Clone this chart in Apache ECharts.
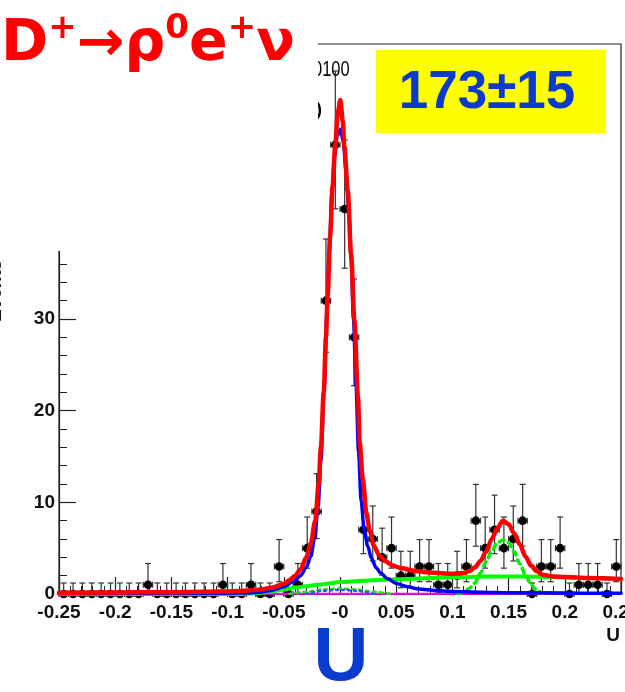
<!DOCTYPE html>
<html>
<head>
<meta charset="utf-8">
<script src="https://cdn.jsdelivr.net/npm/echarts@6/dist/echarts.min.js"></script>
<style>
  html, body { margin: 0; padding: 0; background: #fff; }
  #chart { width: 625px; height: 692px; }
</style>
</head>
<body>
<div id="chart"></div>
<script>
// ---- histogram of U: 60 bins from -0.25 to 0.25 ----
const U_MIN = -0.25;
const U_MAX = 0.25;
const BIN_WIDTH = 1 / 120;
const counts = [
  0, 0, 0, 0, 0, 0, 0, 0, 0, 1,
  0, 0, 0, 0, 0, 0, 0, 1, 0, 0,
  1, 0, 0, 3, 0, 1, 5, 9, 32, 49,
  42, 28, 7, 6, 4, 5, 2, 2, 3, 3,
  1, 1, 2, 3, 8, 5, 7, 5, 6, 8,
  0, 3, 3, 5, 0, 1, 1, 1, 0, 3
];
// upper bar drawn on empty bins
const ZERO_UP = 1.2;

const X_TICK_LABELS = ['-0.25', '-0.2', '-0.15', '-0.1', '-0.05', '-0', '0.05', '0.1', '0.15', '0.2', '0.25'];
const Y_TICK_LABELS = ['0', '10', '20', '30', '40', '50', '60'];

// ---- fit components, sampled as [U, events] ----
const totalFit = [
  [-0.25, 0.15], [-0.2, 0.17], [-0.15, 0.2], [-0.12, 0.24], [-0.1, 0.28], [-0.09, 0.32],
  [-0.08, 0.4], [-0.07, 0.5], [-0.06, 0.72], [-0.05, 1.1], [-0.045, 1.5], [-0.04, 2.0],
  [-0.035, 2.7], [-0.03, 4.0], [-0.026, 5.5], [-0.022, 8.0], [-0.019, 12], [-0.017, 16],
  [-0.0145, 22], [-0.0125, 28], [-0.011, 32.5], [-0.0088, 39], [-0.0066, 44.5],
  [-0.0042, 49], [-0.002, 52.5], [0.0003, 53.9], [0.0025, 51.5], [0.0039, 48.8],
  [0.0069, 44], [0.0099, 37], [0.0128, 29.9], [0.016, 21.5], [0.0175, 16.5],
  [0.0203, 12.5], [0.0235, 8.8], [0.0265, 6.9], [0.03, 5.3], [0.035, 4.2], [0.04, 3.6],
  [0.047, 3.1], [0.055, 2.8], [0.065, 2.55], [0.08, 2.35], [0.1, 2.2], [0.11, 2.3],
  [0.115, 2.5], [0.12, 2.9], [0.125, 3.6], [0.13, 4.6], [0.135, 6.0], [0.14, 7.2],
  [0.145, 8.0], [0.15, 7.6], [0.155, 6.6], [0.16, 5.4], [0.165, 4.1], [0.17, 3.1],
  [0.175, 2.5], [0.18, 2.1], [0.19, 1.9], [0.2, 1.85], [0.22, 1.75], [0.25, 1.65]
];
const signalFit = [
  [-0.25, 0.03], [-0.15, 0.05], [-0.1, 0.08], [-0.08, 0.12], [-0.07, 0.22], [-0.06, 0.42],
  [-0.05, 0.78], [-0.041, 1.4], [-0.035, 2.0], [-0.03, 2.9], [-0.026, 4.1], [-0.0225, 6.2],
  [-0.0195, 9.5], [-0.017, 14.5], [-0.014, 22.6], [-0.0115, 31], [-0.0096, 37.2],
  [-0.007, 44], [-0.005, 47.6], [-0.0025, 50], [0.0003, 50.7], [0.003, 49.3],
  [0.0055, 46], [0.008, 41.5], [0.0099, 36.5], [0.012, 30], [0.0143, 22.6],
  [0.0165, 15.5], [0.0188, 10.2], [0.0215, 7.0], [0.0247, 5.2], [0.028, 3.9],
  [0.032, 2.9], [0.036, 2.3], [0.042, 1.7], [0.05, 1.15], [0.06, 0.8], [0.07, 0.55],
  [0.085, 0.38], [0.1, 0.28], [0.125, 0.2], [0.15, 0.15], [0.2, 0.1], [0.25, 0.08]
];
const smoothBkg = [
  [-0.25, 0], [-0.09, 0], [-0.08, 0.05], [-0.07, 0.15], [-0.06, 0.3], [-0.05, 0.5],
  [-0.04, 0.7], [-0.03, 0.85], [-0.02, 1.0], [-0.01, 1.15], [0, 1.3], [0.02, 1.45],
  [0.05, 1.6], [0.08, 1.75], [0.1, 1.82], [0.13, 1.9], [0.16, 1.9], [0.19, 1.85],
  [0.22, 1.75], [0.25, 1.6]
];
const peakingBkg = [
  [0.105, 0], [0.11, 0.2], [0.115, 0.6], [0.12, 1.2], [0.125, 2.3], [0.13, 3.5],
  [0.135, 4.7], [0.14, 5.6], [0.145, 5.9], [0.15, 5.6], [0.155, 4.6], [0.16, 3.3],
  [0.165, 2.1], [0.17, 1.0], [0.175, 0.4], [0.18, 0.1], [0.185, 0]
];
const crossFeedA = [
  [-0.045, 0], [-0.03, 0.25], [-0.015, 0.5], [0, 0.6], [0.015, 0.5], [0.03, 0.25], [0.045, 0]
];
const crossFeedB = [
  [-0.03, 0], [-0.015, 0.35], [0, 0.45], [0.015, 0.35], [0.03, 0]
];
const flatBkg = [[-0.25, 0.03], [0.25, 0.03]];

const YIELD_TEXT = '173\u00b115';

// ---- points with Poisson-style asymmetric errors ----
const points = counts.map((n, k) => {
  const u = U_MIN + (k + 0.5) * BIN_WIDTH;
  const lo = n > 0 ? n - Math.sqrt(n - 0.25) : 0;
  const hi = n > 0 ? n + Math.sqrt(n + 0.75) + 1 : ZERO_UP;
  return [u, n, lo, hi];
});

const chart = echarts.init(document.getElementById('chart'), null, { renderer: 'canvas' });

const LABEL_FONT = 'Liberation Sans';
const INK = '#222';
const BLUE_TEXT = '#0b3bcc';

function renderPoint(params, api) {
  const u = api.value(0), n = api.value(1), lo = api.value(2), hi = api.value(3);
  const c = api.coord([u, n]);
  const t = api.coord([u, hi]);
  const b = api.coord([u, lo]);
  const l = api.coord([u - BIN_WIDTH / 2, n]);
  const r = api.coord([u + BIN_WIDTH / 2, n]);
  const cap = 3;
  const st = { stroke: '#333', lineWidth: 1.2 };
  const line = (x1, y1, x2, y2) => ({ type: 'line', shape: { x1, y1, x2, y2 }, style: st });
  return {
    type: 'group',
    children: [
      line(c[0], t[1], c[0], b[1]),
      line(c[0] - cap, t[1], c[0] + cap, t[1]),
      line(c[0] - cap, b[1], c[0] + cap, b[1]),
      line(l[0], c[1], r[0], c[1]),
      line(l[0], c[1] - cap, l[0], c[1] + cap),
      line(r[0], c[1] - cap, r[0], c[1] + cap),
      { type: 'circle', shape: { cx: c[0], cy: c[1], r: 4.3 }, style: { fill: '#000' } }
    ]
  };
}

function curve(data, color, width, z, dash) {
  return {
    type: 'line', data, showSymbol: false, smooth: 0.3, smoothMonotone: 'x', z,
    silent: true, animation: false,
    lineStyle: { color, width, type: dash || 'solid', cap: 'round' }
  };
}

const option = {
  backgroundColor: '#fff',
  animation: false,
  grid: {
    left: 59, right: 4, top: 44, bottom: 98, show: true, borderColor: INK, borderWidth: 1.2,
    containLabel: false, outerBoundsMode: 'none'
  },
  xAxis: {
    type: 'value', min: U_MIN, max: U_MAX, interval: 0.05,
    axisLine: { show: true, onZero: false, lineStyle: { color: INK, width: 1.2 } },
    axisTick: { show: true, inside: true, length: 17, lineStyle: { color: INK, width: 1.2 } },
    minorTick: { show: true, splitNumber: 5, length: 8, lineStyle: { color: INK, width: 1 } },
    splitLine: { show: false },
    axisLabel: {
      interval: 0, showMinLabel: true, showMaxLabel: true, hideOverlap: false, margin: 9,
      color: '#111', fontFamily: LABEL_FONT, fontWeight: 'bold', fontSize: 19,
      formatter: v => X_TICK_LABELS[Math.round((v - U_MIN) / 0.05)]
    }
  },
  yAxis: {
    type: 'value', min: 0, max: 60, interval: 10,
    axisLine: { show: true, onZero: false, lineStyle: { color: INK, width: 1.2 } },
    axisTick: { show: true, inside: true, length: 17, lineStyle: { color: INK, width: 1.2 } },
    minorTick: { show: true, splitNumber: 5, length: 8, lineStyle: { color: INK, width: 1 } },
    splitLine: { show: false },
    axisLabel: {
      margin: 4, color: '#111', fontFamily: LABEL_FONT, fontWeight: 'bold', fontSize: 19,
      formatter: v => Y_TICK_LABELS[Math.round(v / 10)]
    }
  },
  series: [
    {
      type: 'custom', data: points, renderItem: renderPoint, z: 2, silent: true,
      encode: { x: 0, y: 1 }
    },
    curve(flatBkg, '#ff00ff', 2, 3),
    curve(smoothBkg, '#00ff00', 4, 4),
    curve(crossFeedA, '#22dd22', 2.5, 5, [3, 4]),
    curve(crossFeedB, '#3355ff', 2.5, 5, [2, 4]),
    curve(peakingBkg, '#00ee00', 3.5, 6, [5, 5]),
    curve(signalFit, '#0000ff', 3.5, 7),
    curve(totalFit, '#ff0000', 4.5, 8)
  ],
  graphic: [
    // fragments of text peeking from under the title panel
    { type: 'text', x: 313, y: 70, z: 50, scaleX: 0.75, style: { text: '0100', font: '22px "Liberation Sans"', fill: '#000', verticalAlign: 'middle', textVerticalAlign: 'middle' } },
    { type: 'text', x: 316, y: 110, z: 50, style: { text: ')', font: 'bold 18px "Liberation Sans"', fill: '#000', verticalAlign: 'middle', textVerticalAlign: 'middle' } },
    // y axis title (mostly cut off at the page edge)
    { type: 'text', x: 5, y: 322, rotation: Math.PI / 2, z: 50, style: { text: 'Events', font: 'bold 19px "Liberation Sans"', fill: '#111', align: 'left', textAlign: 'left', verticalAlign: 'bottom', textVerticalAlign: 'bottom' } },
    // title panel
    { type: 'rect', z: 60, shape: { x: 0, y: 0, width: 318, height: 251 }, style: { fill: '#fff' } },
    {
      type: 'text', x: 1, y: 12, z: 70,
      style: {
        text: '{m|D}{s|+}{m|\u2192\u03c1}{s|0}{m|e}{s|+}{m|\u03bd}',
        verticalAlign: 'top', textVerticalAlign: 'top',
        rich: {
          m: { fontFamily: 'DejaVu Sans', fontWeight: 'bold', fontSize: 57, fill: '#ff0000', verticalAlign: 'bottom', lineHeight: 62 },
          s: { fontFamily: 'DejaVu Sans', fontWeight: 'bold', fontSize: 34, fill: '#ff0000', verticalAlign: 'top', lineHeight: 38 }
        }
      }
    },
    // fitted yield
    { type: 'rect', z: 70, shape: { x: 376, y: 50, width: 230, height: 83 }, style: { fill: '#ffff00' } },
    { type: 'text', x: 487, y: 93, z: 71, style: { text: YIELD_TEXT, font: 'bold 53px "Liberation Sans"', fill: BLUE_TEXT, align: 'center', textAlign: 'center', verticalAlign: 'middle', textVerticalAlign: 'middle' } },
    // axis titles
    { type: 'text', x: 613, y: 636, z: 70, style: { text: 'U', font: 'bold 19px "Liberation Sans"', fill: '#111', align: 'center', textAlign: 'center', verticalAlign: 'middle', textVerticalAlign: 'middle' } },
    { type: 'text', x: 341, y: 659, z: 70, style: { text: 'U', font: 'bold 76px "Liberation Sans"', fill: BLUE_TEXT, align: 'center', textAlign: 'center', verticalAlign: 'middle', textVerticalAlign: 'middle' } }
  ]
};

chart.setOption(option);
</script>
</body>
</html>
